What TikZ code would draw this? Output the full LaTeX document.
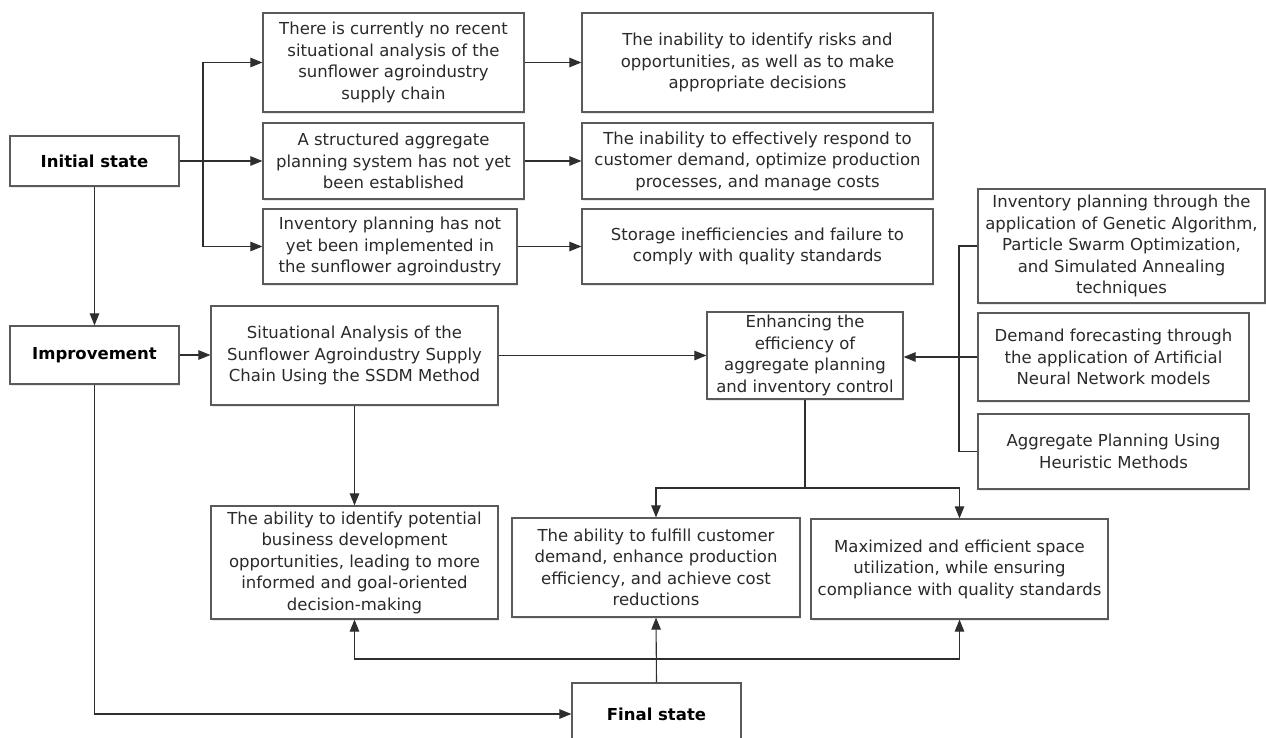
\documentclass[tikz,border=0pt]{standalone}
\usepackage{fontspec}
\setmainfont{DejaVu Sans}
\usetikzlibrary{arrows.meta,shadows}
\definecolor{boxline}{HTML}{5A5A5A}
\definecolor{wire}{HTML}{2E2E2E}
\definecolor{ink}{HTML}{2A2A2A}
\tikzset{
  box/.style={draw=boxline, line width=1.2pt, fill=white, align=center,
    inner sep=2pt, text=ink, font=\fontsize{16.5}{21.5}\selectfont,
    drop shadow={shadow xshift=1.2pt, shadow yshift=-1.6pt, opacity=0.18}},
  state/.style={box, font=\fontsize{16.5}{20}\selectfont\bfseries, text=black},
  wireline/.style={draw=wire, line width=1.1pt},
  arr/.style={wireline, -{Triangle[length=12pt,width=9.5pt]}},
}
\begin{document}
\begin{tikzpicture}[x=1pt,y=-1pt]
\useasboundingbox (0,0) rectangle (1266,738);

% left column: states
\node[state, minimum width=169pt, minimum height=50pt] (init) at (94.5,161) {Initial state};
\node[state, minimum width=169pt, minimum height=58pt] (impr) at (94.5,355) {Improvement};
\node[state, minimum width=169pt, minimum height=62pt] (final) at (656.5,714) {Final state};

% current problems
\node[box, minimum width=261pt, minimum height=99pt] (a1) at (393.5,62.5)
  {There is currently no recent\\situational analysis of the\\sunflower agroindustry\\supply chain};
\node[box, minimum width=261pt, minimum height=76pt] (a2) at (393.5,161)
  {A structured aggregate\\planning system has not yet\\been established};
\node[box, minimum width=254pt, minimum height=75pt] (a3) at (390,246.5)
  {Inventory planning has not\\yet been implemented in\\the sunflower agroindustry};

% consequences
\node[box, minimum width=351pt, minimum height=99pt] (b1) at (757.5,62.5)
  {The inability to identify risks and\\opportunities, as well as to make\\appropriate decisions};
\node[box, minimum width=351pt, minimum height=76pt] (b2) at (757.5,161)
  {The inability to effectively respond to\\customer demand, optimize production\\processes, and manage costs};
\node[box, minimum width=351pt, minimum height=75pt] (b3) at (757.5,246.5)
  {Storage inefficiencies and failure to\\comply with quality standards};

% methods
\node[box, minimum width=287pt, minimum height=114pt] (c1) at (1121.5,246)
  {Inventory planning through the\\application of Genetic Algorithm,\\Particle Swarm Optimization,\\and Simulated Annealing\\techniques};
\node[box, minimum width=271pt, minimum height=88pt] (c2) at (1113.5,357)
  {Demand forecasting through\\the application of Artificial\\Neural Network models};
\node[box, minimum width=271pt, minimum height=75pt] (c3) at (1113.5,451.5)
  {Aggregate Planning Using\\Heuristic Methods};

% improvement steps
\node[box, minimum width=287pt, minimum height=99pt] (sa) at (354.5,355.5)
  {Situational Analysis of the\\Sunflower Agroindustry Supply\\Chain Using the SSDM Method};
\node[box, minimum width=196pt, minimum height=87pt] (en) at (805,355.5)
  {Enhancing the\\efficiency of\\aggregate planning\\and inventory control};

% outcomes
\node[box, minimum width=287pt, minimum height=113pt] (d1) at (354.5,562.5)
  {The ability to identify potential\\business development\\opportunities, leading to more\\informed and goal-oriented\\decision-making};
\node[box, minimum width=288pt, minimum height=99pt] (d2) at (656,567.5)
  {The ability to fulfill customer\\demand, enhance production\\efficiency, and achieve cost\\reductions};
\node[box, minimum width=297pt, minimum height=100pt] (d3) at (959.5,569)
  {Maximized and efficient space\\utilization, while ensuring\\compliance with quality standards};

% junction points
\coordinate (br) at (203,161);
\coordinate (cb) at (959,357);
\coordinate (ej) at (805,488);
\coordinate (fj) at (656,659);

% initial state to problems
\draw[arr] (init.east) -- (a2.west);
\draw[arr] (br) |- (a1.west);
\draw[arr] (br) |- (a3.west);
\draw[arr] (a1.east) -- (b1.west);
\draw[arr] (a2.east) -- (b2.west);
\draw[arr] (a3.east) -- (a3.east -| b3.west);

% state flow
\draw[arr] (init.south) -- (impr.north);
\draw[arr] (impr.east) -- (impr.east -| sa.west);
\draw[arr] (impr.south) |- (final.west);

% improvement chain
\draw[arr] (sa.east) -- (en.west);
\draw[wireline] (c1.west) -| (cb) |- (c3.west);
\draw[arr] (c2.west) -- (c2.west -| en.east);
\draw[arr] (sa.south) -- (d1.north);
\draw[wireline] (en.south) -- (ej);
\draw[arr] (ej) -| (d2.north);
\draw[arr] (ej) -| (d3.north);

% final state feedback
\draw[arr] (final.north) -- (d2.south);
\draw[arr] (fj) -| (d1.south);
\draw[arr] (fj) -| (d3.south);
\end{tikzpicture}
\end{document}
